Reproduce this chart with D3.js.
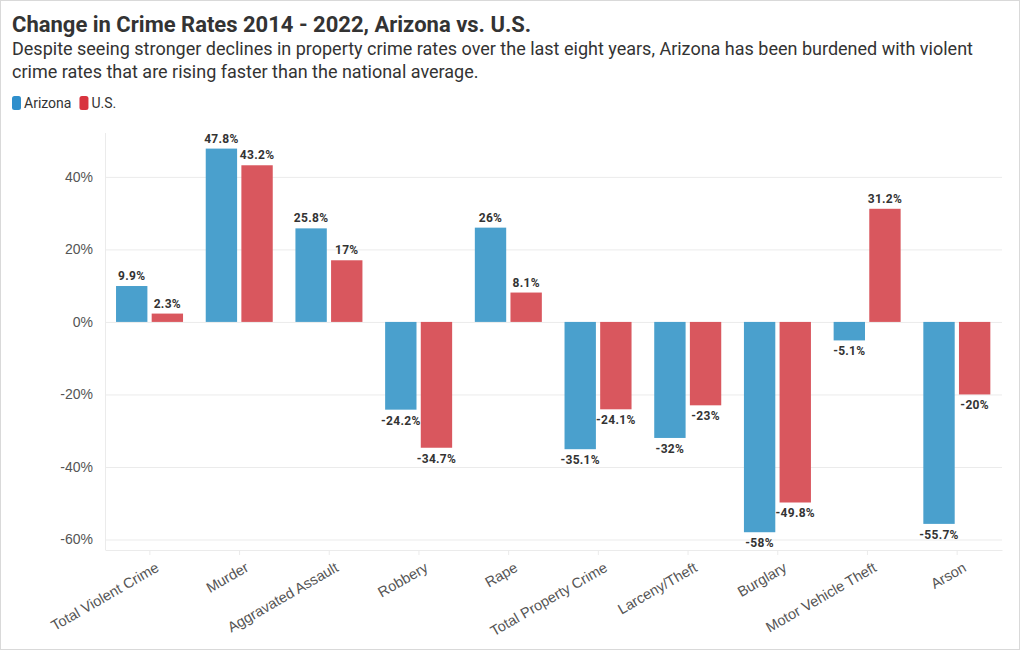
<!DOCTYPE html>
<html><head><meta charset="utf-8">
<script src="https://cdn.jsdelivr.net/npm/d3@7"></script>
<style>
body{margin:0;background:#fff;}
svg{display:block;font-family:Roboto,"Noto Sans",sans-serif;}
</style></head>
<body><svg id="c" width="1020" height="650"></svg>
<script>
const categories = ["Total Violent Crime","Murder","Aggravated Assault","Robbery","Rape","Total Property Crime","Larceny/Theft","Burglary","Motor Vehicle Theft","Arson"];
const arizona = [9.9,47.8,25.8,-24.2,26,-35.1,-32,-58,-5.1,-55.7];
const us = [2.3,43.2,17,-34.7,8.1,-24.1,-23,-49.8,31.2,-20];
const yTicks = [-60,-40,-20,0,20,40];
const seriesNames = ["Arizona","U.S."];

const svg = d3.select("#c");
const W = 1020, H = 650;
svg.append("rect").attr("x",0.5).attr("y",0.5).attr("width",W-1).attr("height",H-1)
  .attr("fill","#fff").attr("stroke","#d9d9d9");

const m = {left:105, right:1002, top:133, bottom:550};
const x = d3.scaleBand().domain(categories).range([m.left,m.right]).paddingInner(0).paddingOuter(0);
const bw = x.bandwidth();
const x1 = d3.scaleBand().domain(seriesNames).range([bw*0.123,bw*0.87]).paddingInner(0.12);
const y = d3.scaleLinear().domain([-62.9,52.1]).range([m.bottom,m.top]);

const barColors = {"Arizona":"#4aa0cd","U.S.":"#d9575e"};
const legColors = {"Arizona":"#2f8fcc","U.S.":"#d8343f"};

svg.append("g").selectAll("line").data(yTicks).join("line")
  .attr("x1",m.left).attr("x2",m.right).attr("y1",d=>y(d)+0.5).attr("y2",d=>y(d)+0.5)
  .attr("stroke","#ebebeb");
svg.append("line").attr("x1",m.left+0.5).attr("x2",m.left+0.5).attr("y1",m.top).attr("y2",m.bottom)
  .attr("stroke","#ebebeb");
const xAxis = svg.append("g").attr("transform",`translate(0,${m.bottom})`)
  .call(d3.axisBottom(x).tickSize(5).tickSizeOuter(0));
xAxis.select(".domain").attr("stroke","#ebebeb");
xAxis.selectAll(".tick line").attr("stroke","#ebebeb");
xAxis.selectAll(".tick text").attr("fill","#555").style("font-size","14.5px")
  .attr("text-anchor","end").attr("transform","translate(3,8) rotate(-30)").attr("dy","0.71em").attr("y",4).attr("x",0);

const yAxis = svg.append("g").attr("transform",`translate(${m.left-12},0)`)
  .call(d3.axisLeft(y).tickValues(yTicks).tickFormat(d=>d+"%").tickSize(0));
yAxis.select(".domain").remove();
yAxis.selectAll("text").attr("fill","#555").style("font-size","14px").attr("x",0);

const rows = categories.map((c,i)=>({c, vals:[{s:"Arizona",v:arizona[i]},{s:"U.S.",v:us[i]}]}));
const g = svg.append("g").selectAll("g").data(rows).join("g").attr("transform",d=>`translate(${x(d.c)},0)`);
g.selectAll("rect").data(d=>d.vals).join("rect")
  .attr("x",d=>x1(d.s)).attr("width",x1.bandwidth())
  .attr("y",d=>y(Math.max(0,d.v))).attr("height",d=>Math.abs(y(d.v)-y(0)))
  .attr("fill",d=>barColors[d.s]);
g.selectAll("text").data(d=>d.vals).join("text")
  .attr("x",d=>x1(d.s)+x1.bandwidth()/2)
  .attr("y",d=>d.v>=0? y(d.v)-6 : y(d.v)+15)
  .attr("text-anchor","middle").attr("fill","#333").style("font-size","12px").style("font-weight","bold")
  .style("letter-spacing","0.3px")
  .text(d=>d.v+"%");

svg.append("text").attr("x",12).attr("y",32).attr("fill","#333").style("font-size","22px").style("font-weight","bold")
  .text("Change in Crime Rates 2014 - 2022, Arizona vs. U.S.");
const sub = ["Despite seeing stronger declines in property crime rates over the last eight years, Arizona has been burdened with violent","crime rates that are rising faster than the national average."];
svg.append("g").selectAll("text").data(sub).join("text").attr("x",12).attr("y",(d,i)=>55+i*23)
  .attr("fill","#333").style("font-size","18px").text(d=>d);

const lg = svg.append("g").attr("transform","translate(12,96)");
let lx = 0;
seriesNames.forEach(s=>{
  lg.append("rect").attr("x",lx).attr("y",0).attr("width",9).attr("height",14).attr("rx",2.5).attr("fill",legColors[s]);
  const t = lg.append("text").attr("x",lx+12).attr("y",12).attr("fill","#333").style("font-size","14px").text(s);
  lx += 12 + t.node().getComputedTextLength() + 8;
});
</script></body></html>
